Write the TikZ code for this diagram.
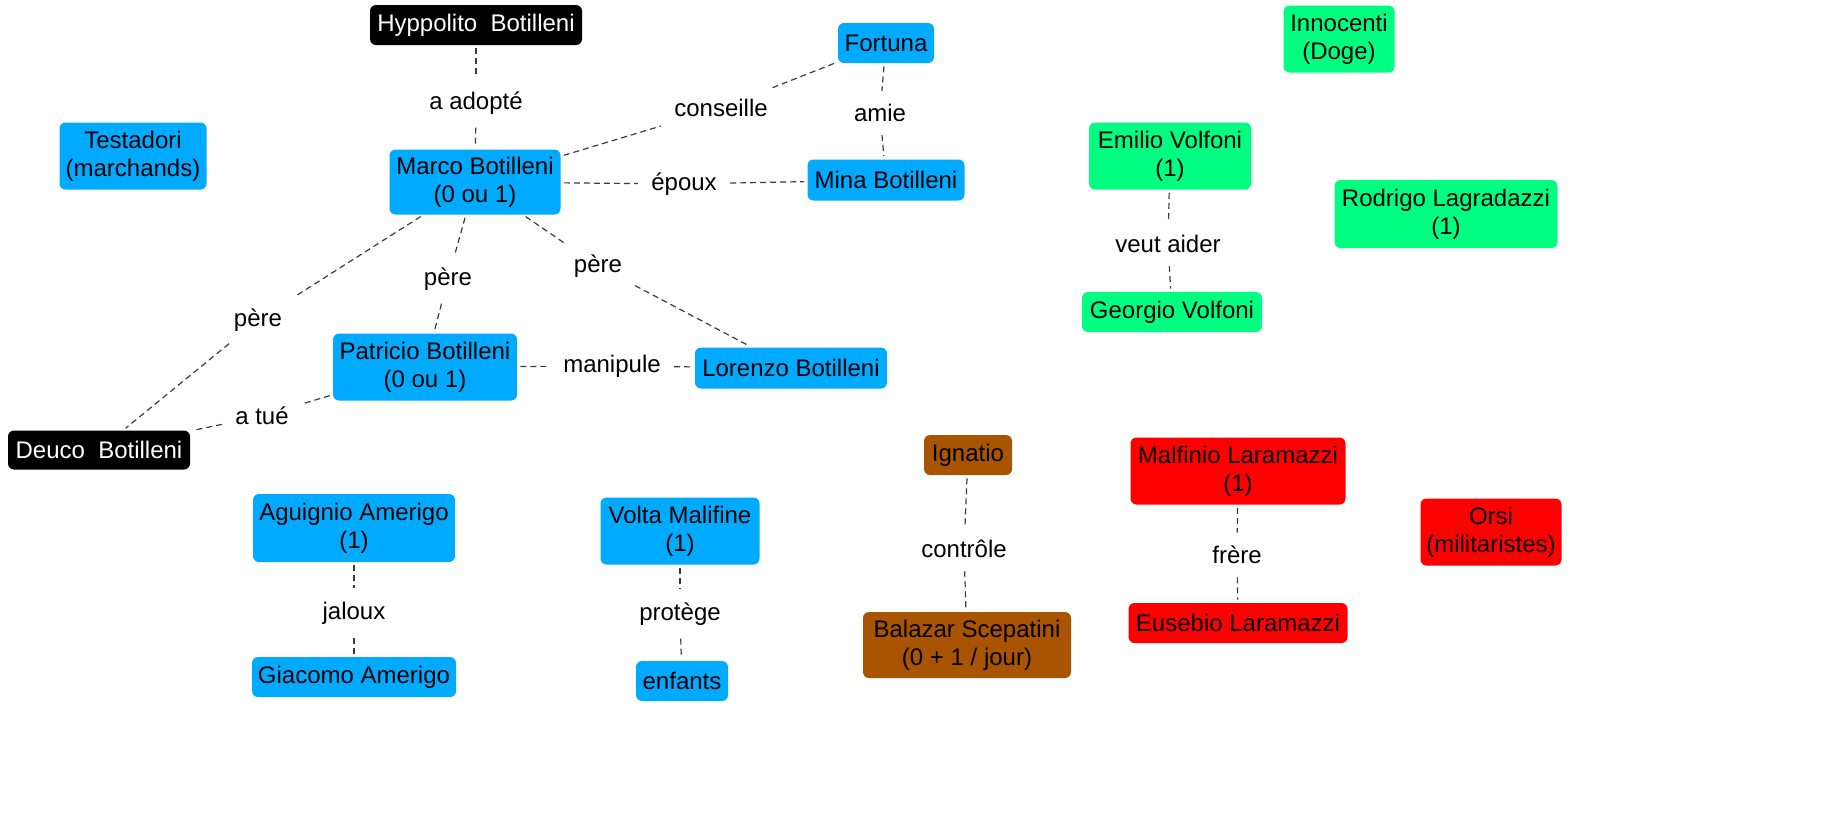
\documentclass[tikz,border=0pt]{standalone}
\usepackage{fontspec}
\setmainfont{Liberation Sans}
\definecolor{cblue}{RGB}{0,170,255}
\definecolor{cgreen}{RGB}{0,255,128}
\definecolor{cred}{RGB}{255,0,0}
\definecolor{cbrown}{RGB}{168,84,0}
\definecolor{cline}{RGB}{60,60,60}
\begin{document}
\begin{tikzpicture}[x=0.5pt,y=-0.5pt,
  box/.style={rounded corners=3pt, align=center, inner sep=0pt, font=\fontsize{12}{14}\selectfont, text=black},
  bl/.style={box, fill=cblue},
  gr/.style={box, fill=cgreen},
  rd/.style={box, fill=cred},
  br/.style={box, fill=cbrown},
  bk/.style={box, fill=black, text=white},
  lab/.style={font=\fontsize{12}{14}\selectfont, inner sep=5pt},
  rel/.style={draw=cline, dash pattern=on 3pt off 2pt, line width=0.6pt, shorten >=1.5pt, shorten <=1.5pt}]
\useasboundingbox (0,0) rectangle (1847,826);

% nodes
\node[bk, minimum width=106pt, minimum height=20pt] (hyp) at (476,25) {Hyppolito\ \ Botilleni};
\node[bl, minimum width=48pt, minimum height=20pt] (fort) at (886,43) {Fortuna};
\node[bl, minimum width=73.5pt, minimum height=33.5pt] (test) at (133,156) {Testadori\\(marchands)};
\node[bl, minimum width=85.5pt, minimum height=32.5pt] (marco) at (475,182) {Marco Botilleni\\(0 ou 1)};
\node[bl, minimum width=78.5pt, minimum height=20.5pt] (mina) at (886,180) {Mina Botilleni};
\node[bl, minimum width=92pt, minimum height=33.5pt] (patr) at (425,367) {Patricio Botilleni\\(0 ou 1)};
\node[bl, minimum width=96pt, minimum height=20.5pt] (lor) at (791,368) {Lorenzo Botilleni};
\node[bk, minimum width=91pt, minimum height=19.5pt] (deuco) at (99,450) {Deuco\ \ Botilleni};
\node[bl, minimum width=101pt, minimum height=34pt] (agu) at (354,528) {Aguignio Amerigo\\(1)};
\node[bl, minimum width=102pt, minimum height=20pt] (gia) at (354,677) {Giacomo Amerigo};
\node[bl, minimum width=79.5pt, minimum height=33.5pt] (volta) at (680,531) {Volta Malifine\\(1)};
\node[bl, minimum width=46pt, minimum height=20pt] (enf) at (682,681) {enfants};
\node[br, minimum width=44pt, minimum height=20pt] (ign) at (968,455) {Ignatio};
\node[br, minimum width=104pt, minimum height=33pt] (bal) at (967,645) {Balazar Scepatini\\(0 + 1 / jour)};
\node[rd, minimum width=107.5pt, minimum height=33.5pt] (malf) at (1238,471) {Malfinio Laramazzi\\(1)};
\node[rd, minimum width=109.5pt, minimum height=20pt] (eus) at (1238,623) {Eusebio Laramazzi};
\node[rd, minimum width=70.5pt, minimum height=33.5pt] (orsi) at (1491,532) {Orsi\\(militaristes)};
\node[gr, minimum width=55.5pt, minimum height=33.5pt] (inno) at (1339,39) {Innocenti\\(Doge)};
\node[gr, minimum width=81pt, minimum height=33.5pt] (emil) at (1170,156) {Emilio Volfoni\\(1)};
\node[gr, minimum width=111.5pt, minimum height=34pt] (rod) at (1446,214) {Rodrigo Lagradazzi\\(1)};
\node[gr, minimum width=90pt, minimum height=20pt] (geo) at (1172,312) {Georgio Volfoni};

% labels
\node[lab] (ladopte) at (476,103) {a adopté};
\node[lab] (lcons) at (721,108) {conseille};
\node[lab] (lamie) at (880,113) {amie};
\node[lab] (lepoux) at (684,184) {époux};
\node[lab] (lpere1) at (258,320) {père};
\node[lab] (lpere2) at (448,279) {père};
\node[lab] (lpere3) at (598,266) {père};
\node[lab] (lmanip) at (612,366) {manipule};
\node[lab] (ltue) at (262,416) {a tué};
\node[lab] (lveut) at (1168,244) {veut aider};
\node[lab] (ljal) at (354,613) {jaloux};
\node[lab] (lprot) at (680,614) {protège};
\node[lab] (lctrl) at (964,549) {contrôle};
\node[lab] (lfrere) at (1237,555) {frère};

% connectors
\draw[rel] (hyp) -- (ladopte); \draw[rel] (ladopte) -- (marco);
\draw[rel] (marco) -- (lcons); \draw[rel] (lcons) -- (fort);
\draw[rel] (fort) -- (lamie); \draw[rel] (lamie) -- (mina);
\draw[rel] (marco) -- (lepoux); \draw[rel] (lepoux) -- (mina);
\draw[rel] (marco) -- (lpere1); \draw[rel] (lpere1) -- (deuco);
\draw[rel] (marco) -- (lpere2); \draw[rel] (lpere2) -- (patr);
\draw[rel] (marco) -- (lpere3); \draw[rel] (lpere3) -- (lor);
\draw[rel] (patr) -- (lmanip); \draw[rel] (lmanip) -- (lor);
\draw[rel] (patr) -- (ltue); \draw[rel] (ltue) -- (deuco);
\draw[rel] (emil) -- (lveut); \draw[rel] (lveut) -- (geo);
\draw[rel] (agu) -- (ljal); \draw[rel] (ljal) -- (gia);
\draw[rel] (volta) -- (lprot); \draw[rel] (lprot) -- (enf);
\draw[rel] (ign) -- (lctrl); \draw[rel] (lctrl) -- (bal);
\draw[rel] (malf) -- (lfrere); \draw[rel] (lfrere) -- (eus);
\end{tikzpicture}
\end{document}
